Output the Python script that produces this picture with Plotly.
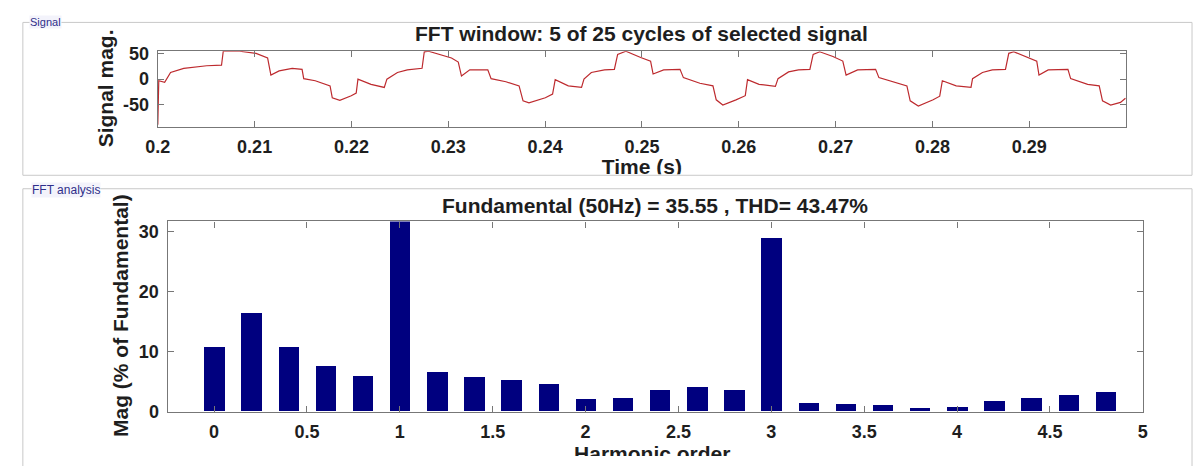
import plotly.graph_objects as go

W, H = 1199, 466

# ---------------- data ----------------
sig_t = [0.20000, 0.20010, 0.20071, 0.20132, 0.20268, 0.20505, 0.20658, 0.20676, 0.20845, 0.21015,
         0.21134, 0.21168, 0.21253, 0.21388, 0.21490, 0.21507, 0.21626, 0.21779, 0.21802, 0.21880,
         0.21998, 0.22049, 0.22067, 0.22202, 0.22339, 0.22366, 0.22475, 0.22577, 0.22729, 0.22752,
         0.22796, 0.22914, 0.23033, 0.23103, 0.23136, 0.23222, 0.23408, 0.23442, 0.23595, 0.23731,
         0.23772, 0.23833, 0.24002, 0.24077, 0.24104, 0.24239, 0.24376, 0.24401, 0.24477, 0.24613,
         0.24715, 0.24749, 0.24834, 0.24987, 0.25089, 0.25115, 0.25224, 0.25393, 0.25428, 0.25598,
         0.25733, 0.25767, 0.25835, 0.25971, 0.26067, 0.26090, 0.26209, 0.26378, 0.26405, 0.26514,
         0.26616, 0.26734, 0.26768, 0.26836, 0.26972, 0.27074, 0.27108, 0.27227, 0.27413, 0.27447,
         0.27600, 0.27736, 0.27770, 0.27854, 0.28007, 0.28075, 0.28102, 0.28245, 0.28398, 0.28414,
         0.28516, 0.28618, 0.28754, 0.28788, 0.28839, 0.28975, 0.29077, 0.29100, 0.29195, 0.29399,
         0.29427, 0.29603, 0.29722, 0.29756, 0.29840, 0.29942, 0.29993]
sig_v = [-88, -3, -6, 13, 21, 26, 27, 54, 54, 50,
         41, 8, 16, 21, 19, 1, -3, -13, -36, -41,
         -32, -27, 0, -10, -16, 0, 13, 18, 21, 53,
         54, 48, 41, 33, 6, 18, 18, 1, -5, -13,
         -42, -46, -36, -29, -1, -13, -16, 0, 13, 18,
         19, 48, 54, 42, 35, 10, 18, 19, 3, -8,
         -13, -40, -50, -40, -32, -1, -10, -14, 1, 14,
         18, 19, 48, 53, 44, 35, 8, 18, 19, 3,
         -6, -13, -42, -52, -40, -33, -3, -13, -16, 1,
         13, 18, 19, 50, 53, 42, 35, 8, 18, 19,
         1, -10, -13, -42, -50, -45, -37]

harm_order = [0, 0.2, 0.4, 0.6, 0.8, 1.0, 1.2, 1.4, 1.6, 1.8, 2.0, 2.2, 2.4,
              2.6, 2.8, 3.0, 3.2, 3.4, 3.6, 3.8, 4.0, 4.2, 4.4, 4.6, 4.8]
harm_mag = [10.8, 16.4, 10.8, 7.6, 5.9, 100, 6.5, 5.7, 5.2, 4.6, 2.0, 2.3, 3.6,
            4.0, 3.6, 28.8, 1.4, 1.2, 1.1, 0.6, 0.75, 1.8, 2.3, 2.7, 3.15]

time_ticks = [0.2, 0.21, 0.22, 0.23, 0.24, 0.25, 0.26, 0.27, 0.28, 0.29]
time_tick_labels = ["0.2", "0.21", "0.22", "0.23", "0.24", "0.25", "0.26", "0.27", "0.28", "0.29"]
sig_ticks = [-50, 0, 50]
sig_tick_labels = ["-50", "0", "50"]
harm_ticks = [0, 0.5, 1, 1.5, 2, 2.5, 3, 3.5, 4, 4.5, 5]
harm_tick_labels = ["0", "0.5", "1", "1.5", "2", "2.5", "3", "3.5", "4", "4.5", "5"]
mag_ticks = [0, 10, 20, 30]
mag_tick_labels = ["0", "10", "20", "30"]

top_title = "FFT window: 5 of 25 cycles of selected signal"
bot_title = "Fundamental (50Hz) = 35.55 , THD= 43.47%"

# ---------------- styling helpers ----------------
FONT = "Liberation Sans, Arial, Helvetica, sans-serif"
TXT = "#1e1e1e"
AX = "#777777"
GB = "#c9c9c9"


def px(x):
    return x / W


def py(y):
    return 1 - y / H


tickfont = dict(family=FONT, size=18, color=TXT, weight="bold")
labfont = dict(family=FONT, size=21, color=TXT, weight="bold")

fig = go.Figure()

fig.add_trace(go.Scatter(x=sig_t, y=sig_v, mode="lines",
                         line=dict(color="#bd2a2e", width=1.2),
                         xaxis="x", yaxis="y", hoverinfo="skip", showlegend=False))

fig.add_trace(go.Bar(x=harm_order, y=harm_mag, width=0.11,
                     marker=dict(color="#00007f", line=dict(width=0)),
                     xaxis="x2", yaxis="y2", hoverinfo="skip", showlegend=False))

# axis labels drawn as text clipped by their group boxes
fig.add_trace(go.Scatter(x=[638.5], y=[167], mode="text", text=["Time (s)"],
                         textfont=labfont, textposition="middle center",
                         cliponaxis=True, xaxis="x3", yaxis="y3",
                         hoverinfo="skip", showlegend=False))
fig.add_trace(go.Scatter(x=[649], y=[466], mode="text", text=["Harmonic order"],
                         textfont=labfont, textposition="middle center",
                         cliponaxis=True, xaxis="x4", yaxis="y4",
                         hoverinfo="skip", showlegend=False))

common = dict(showgrid=False, zeroline=False, showline=True, linecolor=AX, linewidth=1.3,
              mirror="ticks", ticks="inside", ticklen=6, tickwidth=1, tickcolor=AX,
              tickfont=tickfont)

hidden = dict(visible=False, showgrid=False, zeroline=False, fixedrange=True)

fig.update_layout(
    width=W, height=H,
    margin=dict(l=0, r=0, t=0, b=0),
    paper_bgcolor="white",
    plot_bgcolor="rgba(0,0,0,0)",
    xaxis=dict(domain=[px(147), px(1130)], range=[0.2, 0.29999], anchor="y",
               tickvals=time_ticks, ticktext=time_tick_labels, ticklabelstandoff=3, **common),
    yaxis=dict(domain=[py(124), py(45)], range=[-93, 54], anchor="x",
               tickvals=sig_ticks, ticktext=sig_tick_labels, ticklabelstandoff=4, **common),
    xaxis2=dict(domain=[px(157), px(1147)], range=[-0.25, 5], anchor="y2",
                tickvals=harm_ticks, ticktext=harm_tick_labels, ticklabelstandoff=3, **common),
    yaxis2=dict(domain=[py(420), py(222)], range=[0, 31.7], anchor="x2",
                tickvals=mag_ticks, ticktext=mag_tick_labels, ticklabelstandoff=4, **common),
    xaxis3=dict(domain=[0, 1], range=[0, W], anchor="y3", **hidden),
    yaxis3=dict(domain=[py(173), py(15)], range=[173, 15], anchor="x3", **hidden),
    xaxis4=dict(domain=[0, 1], range=[0, W], anchor="y4", **hidden),
    yaxis4=dict(domain=[0, py(189)], range=[H, 189], anchor="x4", **hidden),
    bargap=0,
)

# group boxes
fig.add_shape(type="rect", xref="paper", yref="paper",
              x0=px(10), x1=px(1197), y0=py(174), y1=py(15),
              line=dict(color=GB, width=1), fillcolor="rgba(0,0,0,0)", layer="below")
fig.add_shape(type="rect", xref="paper", yref="paper",
              x0=px(10), x1=px(1197), y0=py(490), y1=py(188),
              line=dict(color=GB, width=1), fillcolor="rgba(0,0,0,0)", layer="below")

ann = []
ann.append(dict(text="Signal", x=px(16), y=py(15), xanchor="left", yanchor="middle",
                font=dict(family=FONT, size=11, color="#2f2f8a"), bgcolor="#f3f3fb",
                borderpad=0))
ann.append(dict(text="FFT analysis", x=px(18), y=py(189), xanchor="left", yanchor="middle",
                font=dict(family=FONT, size=12, color="#2f2f8a"), bgcolor="#f3f3fb",
                borderpad=0))
ann.append(dict(text=top_title, x=px(638.5), y=py(27), xanchor="center", yanchor="middle",
                font=labfont))
ann.append(dict(text=bot_title, x=px(652), y=py(205), xanchor="center", yanchor="middle",
                font=labfont))
ann.append(dict(text="Signal mag.", x=px(94), y=py(84), xanchor="center", yanchor="middle",
                textangle=-90, font=labfont))
ann.append(dict(text="Mag (% of Fundamental)", x=px(109), y=py(320), xanchor="center",
                yanchor="middle", textangle=-90, font=labfont))
for a in ann:
    a.update(xref="paper", yref="paper", showarrow=False)
fig.update_layout(annotations=ann)

fig.write_html("out.html")
